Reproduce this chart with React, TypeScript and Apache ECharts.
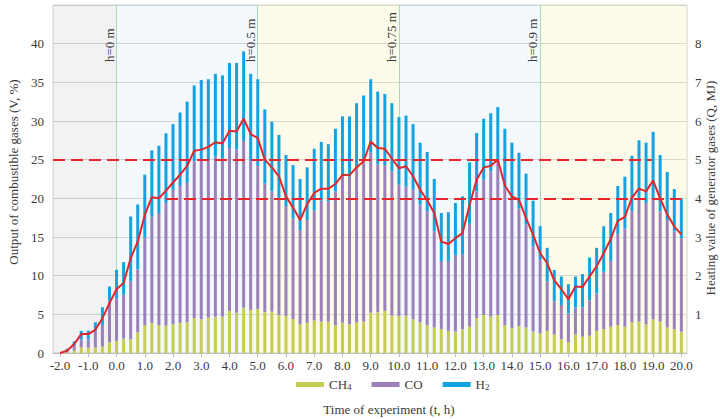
import React, { useEffect, useRef } from "react";
import * as echarts from "echarts";

const hours = [
  -2.0, -1.75, -1.5, -1.25, -1.0, -0.75, -0.5, -0.25,
  0.0, 0.25, 0.5, 0.75, 1.0, 1.25, 1.5, 1.75,
  2.0, 2.25, 2.5, 2.75, 3.0, 3.25, 3.5, 3.75,
  4.0, 4.25, 4.5, 4.75, 5.0, 5.25, 5.5, 5.75,
  6.0, 6.25, 6.5, 6.75, 7.0, 7.25, 7.5, 7.75,
  8.0, 8.25, 8.5, 8.75, 9.0, 9.25, 9.5, 9.75,
  10.0, 10.25, 10.5, 10.75, 11.0, 11.25, 11.5, 11.75,
  12.0, 12.25, 12.5, 12.75, 13.0, 13.25, 13.5, 13.75,
  14.0, 14.25, 14.5, 14.75, 15.0, 15.25, 15.5, 15.75,
  16.0, 16.25, 16.5, 16.75, 17.0, 17.25, 17.5, 17.75,
  18.0, 18.25, 18.5, 18.75, 19.0, 19.25, 19.5, 19.75,
  20.0,
];

const ch4 = [
  0, 0.1, 0.3, 0.73, 0.69, 0.73, 0.82, 1.38,
  1.55, 1.86, 1.77, 2.68, 3.6, 3.9, 3.6, 3.54,
  3.7, 3.9, 3.97, 4.5, 4.36, 4.58, 4.7, 4.7,
  5.44, 5.22, 5.87, 5.57, 5.7, 5.27, 5.35, 4.92,
  4.8, 4.4, 3.7, 3.9, 4.2, 4.06, 4.06, 3.6,
  3.93, 3.7, 3.93, 4.06, 5.22, 5.27, 5.44, 4.84,
  4.8, 4.84, 4.36, 3.97, 3.6, 3.3, 3.1, 2.85,
  2.76, 3.07, 3.4, 4.5, 4.92, 4.7, 4.92, 3.6,
  3.2, 3.5, 3.3, 2.76, 2.55, 2.85, 2.4, 1.8,
  1.4, 2.4, 2.1, 2.25, 2.85, 3.07, 3.4, 3.6,
  3.4, 3.97, 4.06, 3.7, 4.36, 4.06, 3.3, 3.07,
  2.76,
];

const co = [
  0, 0.2, 0.6, 1.04, 1.08, 2.12, 2.81, 5.4,
  5.55, 5.74, 7.53, 8.12, 11.3, 13.76, 14.5, 15.86,
  17.4, 17.7, 18.03, 20.3, 20.64, 20.32, 20.7, 20.5,
  21.06, 21.08, 21.53, 19.23, 18.5, 16.63, 15.55, 14.88,
  14.2, 13.0, 12.2, 13.3, 14.2, 15.64, 15.54, 17.3,
  19.13, 19.1, 19.97, 20.74, 20.68, 19.13, 18.86, 18.66,
  17.0, 16.66, 16.74, 15.23, 14.7, 12.4, 8.8, 9.05,
  9.94, 9.63, 13.3, 16.4, 17.48, 18.8, 19.68, 17.7,
  16.8, 15.2, 13.3, 11.04, 9.5, 6.39, 4.3, 4.4,
  3.7, 3.5, 3.8, 4.55, 4.85, 7.43, 8.5, 11.8,
  12.7, 14.33, 15.74, 15.7, 15.44, 14.24, 13.9, 12.63,
  12.09,
];

const h2 = [
  0, 0.25, 0.6, 1.08, 1.13, 1.12, 2.29, 1.82,
  3.65, 4.15, 8.36, 8.4, 8.16, 8.54, 8.7, 9.0,
  8.5, 9.5, 10.5, 9.8, 10.3, 10.5, 10.7, 10.7,
  11.0, 11.2, 11.6, 11.3, 11.2, 9.6, 9.0, 8.4,
  6.6, 6.9, 6.6, 6.8, 8.0, 7.6, 7.4, 8.1,
  7.54, 7.8, 8.4, 8.5, 9.5, 9.4, 9.2, 8.8,
  8.7, 9.2, 8.5, 8.0, 7.7, 6.8, 6.2, 6.3,
  6.7, 7.55, 7.95, 7.55, 7.9, 7.5, 7.2, 7.7,
  7.2, 7.2, 6.6, 5.9, 4.35, 4.36, 4.05, 3.7,
  3.8, 4.0, 4.3, 5.55, 5.9, 5.9, 6.2, 6.2,
  6.7, 7.2, 7.7, 7.8, 8.8, 7.3, 6.2, 5.5,
  5.15,
];

const heatingValue = [
  0, 0.06, 0.23, 0.49, 0.49, 0.6, 0.9, 1.29,
  1.65, 1.81, 2.45, 2.88, 3.57, 4.03, 4.0, 4.2,
  4.41, 4.61, 4.84, 5.23, 5.26, 5.33, 5.45, 5.42,
  5.75, 5.73, 6.06, 5.66, 5.56, 5.0, 4.8, 4.57,
  4.05, 3.76, 3.44, 3.85, 4.14, 4.25, 4.25, 4.37,
  4.61, 4.6, 4.8, 4.96, 5.47, 5.3, 5.28, 5.03,
  4.78, 4.83, 4.57, 4.22, 3.95, 3.62, 2.88, 2.82,
  2.97, 3.1, 3.83, 4.48, 4.8, 4.84, 5.0, 4.33,
  4.05, 3.96, 3.49, 3.06, 2.58, 2.32, 1.88, 1.65,
  1.39, 1.72, 1.71, 1.98, 2.24, 2.58, 2.95, 3.42,
  3.52, 4.02, 4.25, 4.18, 4.46, 4.0, 3.58, 3.27,
  3.07,
];

const xTicks = [-2, -1, 0, 1, 2, 3, 4, 5, 6, 7, 8, 9, 10, 11, 12, 13, 14, 15, 16, 17, 18, 19, 20];
const zoneEdges = [-2.25, 0, 5, 10, 15, 20.2];
const zoneColors = [
  "rgba(0,0,0,0.05)",
  "rgba(30,140,220,0.05)",
  "rgba(240,220,60,0.11)",
  "rgba(30,140,220,0.05)",
  "rgba(240,220,60,0.11)",
];
const heightMarks = [0, 5, 10, 15];
const heightLabels = ["h=0 m", "h=0.5 m", "h=0.75 m", "h=0.9 m"];
// dashed reference levels: [value, from t, to t]
const thresholds = [
  [25, -2.25, 18.95],
  [20, 1.75, 20.0],
];

const FONT = "'Liberation Serif', 'Times New Roman', serif";
const TXT = "#3a3a3a";
const FS = 13;

export default function App() {
  const ref = useRef<HTMLDivElement>(null);
  useEffect(() => {
    document.body.style.margin = "0";
    const chart = echarts.init(ref.current!, null, { renderer: "svg" });
    // value first, time second, so the stack sums the values
    const pairs = (arr: number[]) => hours.map((t, i) => [arr[i], t]);
    const enc = { x: 1, y: 0 };
    const areas = zoneColors.map((c, i) => [
      { xAxis: zoneEdges[i], itemStyle: { color: c } },
      { xAxis: zoneEdges[i + 1] },
    ]);
    chart.setOption({
      animation: false,
      textStyle: { fontFamily: FONT },
      grid: {
        left: 53,
        right: 33,
        top: 5,
        bottom: 66,
        outerBoundsMode: "none",
        containLabel: false,
        show: true,
        borderColor: "#d4d4d4",
        borderWidth: 1,
        backgroundColor: "transparent",
      },
      legend: {
        left: 291,
        top: 373,
        icon: "rect",
        itemWidth: 28,
        itemHeight: 5,
        itemGap: 20,
        data: ["CH4", "CO", "H2"],
        formatter: (n: string) =>
          n === "CH4" ? "{n|CH}{s|4}" : n === "H2" ? "{n|H}{s|2}" : "{n|CO}",
        textStyle: {
          rich: {
            n: { fontFamily: FONT, fontSize: FS, color: TXT },
            s: { fontFamily: FONT, fontSize: 9, color: TXT, padding: [4, 0, 0, 0] },
          },
        },
      },
      xAxis: {
        type: "value",
        min: -2.25,
        max: 20.2,
        name: "Time of experiment (t, h)",
        nameLocation: "middle",
        nameGap: 50,
        nameTextStyle: { fontFamily: FONT, fontSize: FS, color: TXT, padding: [0, 0, 0, 38] },
        axisLine: { show: true, lineStyle: { color: "#bdbdbd" } },
        axisTick: { show: true, customValues: xTicks, length: 4, lineStyle: { color: "#bdbdbd" } },
        axisLabel: {
          customValues: xTicks,
          formatter: (v: number) => v.toFixed(1),
          fontFamily: FONT,
          fontSize: FS,
          color: TXT,
          margin: 6,
        },
        splitLine: { show: false },
      },
      yAxis: [
        {
          type: "value",
          min: 0,
          max: 45,
          interval: 5,
          name: "Output of combustible gases (V, %)",
          nameLocation: "middle",
          nameRotate: 90,
          nameGap: 28,
          nameTextStyle: { fontFamily: FONT, fontSize: FS, color: TXT, padding: [0, 0, 0, 14] },
          axisLine: { show: false },
          axisTick: { show: false },
          axisLabel: {
            fontFamily: FONT,
            fontSize: FS,
            color: TXT,
            margin: 9,
            formatter: (v: number) => (v === 45 ? "" : String(v)),
          },
          splitLine: { show: true, lineStyle: { color: "#d9d9d9", width: 1 } },
        },
        {
          type: "value",
          min: 0,
          max: 9,
          interval: 1,
          position: "right",
          name: "Heating value of generator gases (Q, MJ)",
          nameLocation: "middle",
          nameRotate: 90,
          nameGap: 17,
          nameMoveOverlap: false,
          nameTextStyle: { fontFamily: FONT, fontSize: FS, color: TXT, padding: [0, 18, 0, 0] },
          axisLine: { show: false },
          axisTick: { show: false },
          axisLabel: {
            fontFamily: FONT,
            fontSize: FS,
            color: TXT,
            margin: 8,
            formatter: (v: number) => (v === 0 || v === 9 ? "" : String(v)),
          },
          splitLine: { show: false },
        },
      ],
      series: [
        {
          name: "CH4",
          type: "bar",
          stack: "gas",
          barWidth: 3,
          encode: enc,
          itemStyle: { color: "#c5cc52" },
          data: pairs(ch4),
          markArea: { silent: true, data: areas },
        },
        {
          name: "CO",
          type: "bar",
          stack: "gas",
          barWidth: 3,
          encode: enc,
          itemStyle: { color: "#9c80bb" },
          data: pairs(co),
          markLine: {
            silent: true,
            z: 1,
            symbol: ["none", "none"],
            lineStyle: { color: "#a6dbb6", type: "solid", width: 1 },
            label: {
              show: true,
              position: "insideEndTop",
              formatter: "{b}",
              fontFamily: FONT,
              fontSize: FS,
              color: TXT,
              align: "left",
              distance: [57, 1],
            },
            data: heightMarks.map((x, i) => ({ xAxis: x, name: heightLabels[i] })),
          },
        },
        {
          name: "H2",
          type: "bar",
          stack: "gas",
          barWidth: 3,
          encode: enc,
          itemStyle: { color: "#14a3e2" },
          data: pairs(h2),
          markLine: {
            silent: true,
            symbol: ["none", "none"],
            label: { show: false },
            lineStyle: { color: "#e8262b", type: [12, 6], width: 2 },
            data: thresholds.map(([y, a, b]) => [
              { xAxis: a, yAxis: y },
              { xAxis: b, yAxis: y },
            ]),
          },
        },
        {
          name: "Q",
          type: "line",
          yAxisIndex: 1,
          symbol: "none",
          encode: enc,
          lineStyle: { color: "#e3262b", width: 2 },
          itemStyle: { color: "#e3262b" },
          data: pairs(heatingValue),
          z: 4,
        },
      ],
    });
    return () => chart.dispose();
  }, []);
  return <div ref={ref} style={{ width: 720, height: 419 }} />;
}
